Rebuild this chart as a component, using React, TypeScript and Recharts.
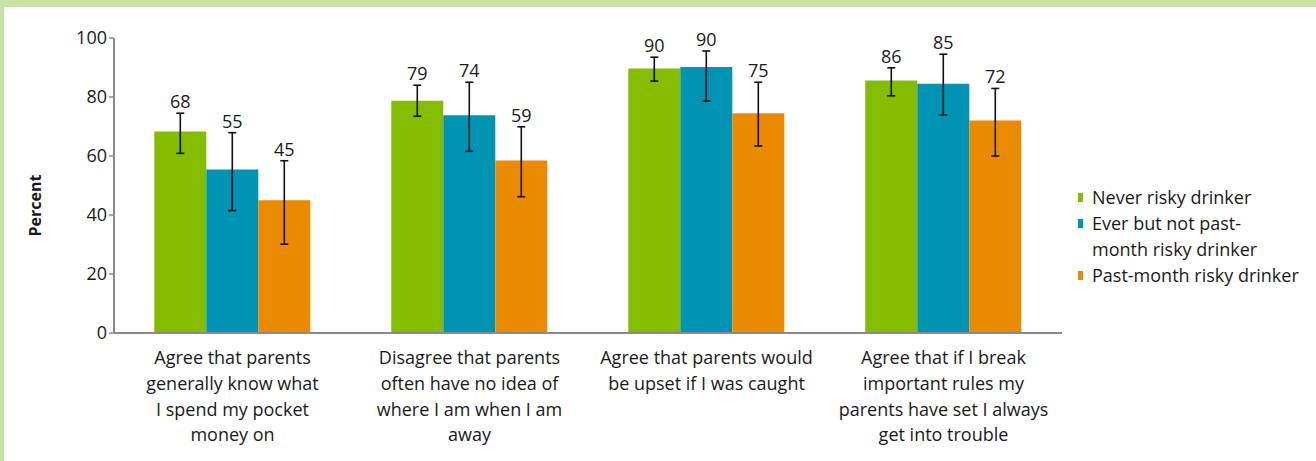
import React from 'react';
import { BarChart, Bar, XAxis, YAxis, ErrorBar, LabelList } from 'recharts';

const categories: string[][] = [
  ['Agree that parents', 'generally know what', 'I spend my pocket', 'money on'],
  ['Disagree that parents', 'often have no idea of', 'where I am when I am', 'away'],
  ['Agree that parents would', 'be upset if I was caught'],
  ['Agree that if I break', 'important rules my', 'parents have set I always', 'get into trouble'],
];

const seriesNames = ['Never risky drinker', 'Ever but not past-month risky drinker', 'Past-month risky drinker'];
const legendLines: string[][] = [
  ['Never risky drinker'],
  ['Ever but not past-', 'month risky drinker'],
  ['Past-month risky drinker'],
];
const seriesColors = ['#84bc00', '#0093b3', '#ea8a00'];

const neverRisky = [68.3, 78.7, 89.7, 85.6];
const neverLow = [60.9, 73.5, 85.4, 80.4];
const neverHigh = [74.5, 84.0, 93.5, 89.9];

const everNotPast = [55.4, 73.8, 90.2, 84.5];
const everLow = [41.5, 61.6, 78.6, 73.9];
const everHigh = [67.9, 85.0, 95.6, 94.5];

const pastMonth = [45.0, 58.5, 74.5, 72.0];
const pastLow = [30.1, 46.2, 63.4, 60.0];
const pastHigh = [58.4, 69.9, 85.0, 82.9];

const yTicks = [0, 20, 40, 60, 80, 100];
const edgeTicks = [0, 1, 2, 3, 4];

const values = [neverRisky, everNotPast, pastMonth];
const lows = [neverLow, everLow, pastLow];
const highs = [neverHigh, everHigh, pastHigh];

const data = categories.map((lines, i) => {
  const row: Record<string, unknown> = { name: lines.join(' '), lines };
  values.forEach((vals, s) => {
    row[`v${s}`] = vals[i];
    row[`e${s}`] = [vals[i] - lows[s][i], highs[s][i] - vals[i]];
    row[`h${s}`] = highs[s][i];
  });
  return row;
});

const FONT = '"Open Sans", "Noto Sans", sans-serif';
const TEXT = '#1a1a1a';
const AXIS = '#8a8a8a';
const FS = 18;

const CategoryTick = (props: any) => {
  const { x, y, payload, index } = props;
  const lines: string[] = categories[index ?? payload.index] || [payload.value];
  return (
    <text x={x} y={y} textAnchor="middle" fontFamily={FONT} fontSize={FS} fill={TEXT}>
      {lines.map((l, k) => (
        <tspan key={k} x={x} dy={k === 0 ? 23 : 25.8}>
          {l}
        </tspan>
      ))}
    </text>
  );
};

const makeLabel = (s: number) => (props: any) => {
  const { x, y, width, height, value, index } = props;
  if (value == null || !height) return null;
  const perUnit = height / value;
  const top = y + height - highs[s][index] * perUnit;
  return (
    <text
      x={x + width / 2}
      y={top - 5}
      textAnchor="middle"
      fontFamily={FONT}
      fontSize={FS}
      fill={TEXT}
    >
      {Math.round(value)}
    </text>
  );
};

const PercentLabel = (props: any) => {
  const vb = props.viewBox || {};
  const cx = vb.x + 35;
  const cy = vb.y + vb.height / 2 + 20;
  return (
    <text
      x={cx}
      y={cy}
      transform={`rotate(-90 ${cx} ${cy})`}
      textAnchor="middle"
      dominantBaseline="central"
      fontFamily={FONT}
      fontSize={16}
      fontWeight="bold"
      fill={TEXT}
    >
      Percent
    </text>
  );
};

export default function App() {
  return (
    <div
      style={{
        position: 'absolute',
        left: 0,
        top: 0,
        width: 1316,
        height: 461,
        background: '#ffffff',
        boxSizing: 'border-box',
        borderTop: '7px solid #c4e3a4',
        borderLeft: '4px solid #c4e3a4',
        overflow: 'hidden',
      }}
    >
      <div style={{ position: 'absolute', left: -4, top: -7 }}>
        <BarChart
          width={1316}
          height={461}
          data={data}
          margin={{ top: 38, right: 254, bottom: 0, left: 0 }}
          barCategoryGap="17%"
          barGap={0}
        >
          <XAxis
            xAxisId="edges"
            type="number"
            domain={[0, 4]}
            ticks={edgeTicks}
            allowDataOverflow
            height={0}
            axisLine={false}
            tick={false}
            tickLine={{ stroke: AXIS, strokeWidth: 1.5 }}
            tickSize={7}
          />
          <XAxis
            dataKey="name"
            height={128}
            axisLine={{ stroke: AXIS, strokeWidth: 2 }}
            tickLine={false}
            interval={0}
            tick={<CategoryTick />}
          />
          <YAxis
            width={114}
            domain={[0, 100]}
            ticks={yTicks}
            axisLine={{ stroke: AXIS, strokeWidth: 2 }}
            tickLine={{ stroke: AXIS, strokeWidth: 1.5 }}
            tickSize={5}
            tickMargin={2}
            tick={{ fontFamily: FONT, fontSize: FS, fill: TEXT }}
            label={<PercentLabel />}
          />
          {seriesNames.map((name, s) => (
            <Bar
              key={name}
              dataKey={`v${s}`}
              name={name}
              fill={seriesColors[s]}
              isAnimationActive={false}
            >
              <ErrorBar dataKey={`e${s}`} width={4} stroke="#111" strokeWidth={1.6} direction="y" />
              <LabelList dataKey={`v${s}`} content={makeLabel(s)} />
            </Bar>
          ))}
        </BarChart>
      </div>
      <div
        style={{
          position: 'absolute',
          left: 1074,
          top: 177,
          fontFamily: FONT,
          fontSize: FS,
          color: TEXT,
          lineHeight: '26px',
        }}
      >
        {legendLines.map((lines, s) => (
          <div key={s} style={{ position: 'relative', paddingLeft: 14 }}>
            <span
              style={{
                position: 'absolute',
                left: 0,
                top: 9,
                width: 5,
                height: 9,
                background: seriesColors[s],
              }}
            />
            {lines.map((l, k) => (
              <div key={k} style={{ whiteSpace: 'nowrap' }}>
                {l}
              </div>
            ))}
          </div>
        ))}
      </div>
    </div>
  );
}
